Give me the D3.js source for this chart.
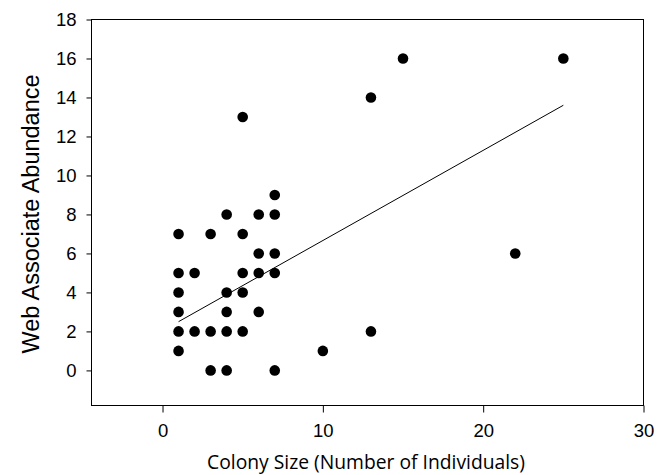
<!DOCTYPE html>
<html><head><meta charset="utf-8">
<script src="https://cdn.jsdelivr.net/npm/d3@7"></script>
<style>body{margin:0;background:#fff}svg{display:block}</style>
</head><body>
<svg id="c" width="664" height="475"></svg>
<script>
const colonySize = [1,1,1,1,1,1,2,2,3,3,3,4,4,4,4,4,5,5,5,5,5,6,6,6,6,7,7,7,7,7,10,13,13,15,22,25];
const abundance  = [7,5,4,3,2,1,5,2,7,2,0,8,4,3,2,0,13,7,5,4,2,8,6,5,3,9,8,6,5,0,1,14,2,16,6,16];
const fitX = [1, 25];
const fitY = [2.5, 13.6];
const xTicks = [0,10,20,30];
const yTicks = [0,2,4,6,8,10,12,14,16,18];

const svg = d3.select("#c");
const L=91.5, R=643.5, T=19.5, B=405.5;
const x = d3.scaleLinear().domain([-4.43,30]).range([L,R]);
const y = d3.scaleLinear().domain([-1.8,18]).range([B,T]);

// frame
svg.append("rect").attr("x",L).attr("y",T).attr("width",R-L).attr("height",B-T)
  .attr("fill","none").attr("stroke","#000").attr("stroke-width",1);

const font = "'Liberation Sans', Arial, sans-serif";
const xa = svg.append("g").attr("transform",`translate(0,${B})`)
  .call(d3.axisBottom(x).tickValues(xTicks).tickSize(7).tickPadding(11).tickFormat(d3.format("d")));
const ya = svg.append("g").attr("transform",`translate(${L},0)`)
  .call(d3.axisLeft(y).tickValues(yTicks).tickSize(5).tickPadding(10).tickFormat(d3.format("d")));
[xa,ya].forEach(a=>{
  a.attr("font-family",null).attr("font-size",null);
  a.select(".domain").remove();
  a.selectAll("line").attr("stroke","#000");
  a.selectAll("text").attr("fill","#000").style("font-family",font).style("font-size","18.5px");
});

// regression line
svg.append("line").attr("x1",x(fitX[0])).attr("y1",y(fitY[0]))
  .attr("x2",x(fitX[1])).attr("y2",y(fitY[1])).attr("stroke","#000").attr("stroke-width",1);

svg.append("g").selectAll("circle").data(colonySize.map((d,i)=>[d,abundance[i]]))
  .join("circle").attr("cx",d=>x(d[0])).attr("cy",d=>y(d[1])).attr("r",5.3).attr("fill","#000");

svg.append("text").attr("x",366).attr("y",468.5).attr("text-anchor","middle")
  .style("font-family","'Open Sans', sans-serif").style("font-size","19.3px").attr("fill","#000")
  .text("Colony Size (Number of Individuals)");
svg.append("text").attr("transform",`translate(38.5,214) rotate(-90)`).attr("text-anchor","middle")
  .style("font-family",font).style("font-size","23.5px").attr("fill","#000")
  .text("Web Associate Abundance");
</script>
</body></html>
